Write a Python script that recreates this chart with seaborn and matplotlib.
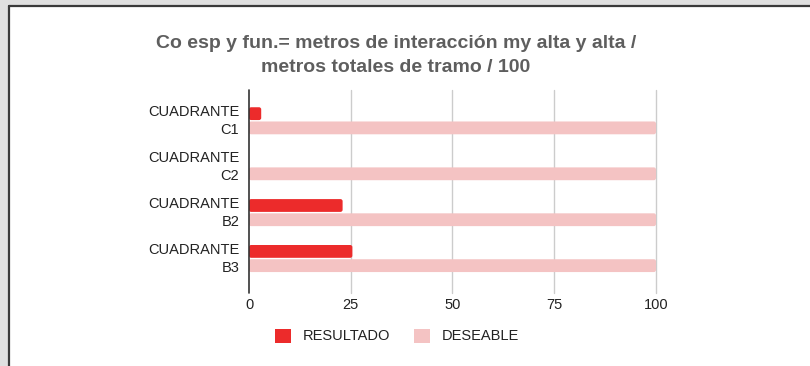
import matplotlib
matplotlib.use("Agg")
import matplotlib.pyplot as plt
from matplotlib.patches import Rectangle, FancyBboxPatch
from matplotlib.lines import Line2D
from matplotlib.transforms import ScaledTranslation
import seaborn as sns
import pandas as pd

# Data
cuadrantes = ["CUADRANTE\nC1", "CUADRANTE\nC2", "CUADRANTE\nB2", "CUADRANTE\nB3"]
resultado = [3, 0, 23, 25.4]
deseable = [100, 100, 100, 100]
series = ["RESULTADO", "DESEABLE"]
colores = ["#ec2b2b", "#f4c3c3"]
xticks = [0, 25, 50, 75, 100]

df = pd.DataFrame({
    "cuadrante": cuadrantes * 2,
    "valor": resultado + deseable,
    "serie": [series[0]] * len(cuadrantes) + [series[1]] * len(cuadrantes),
})

sns.set_theme(style="white")
plt.rcParams["font.family"] = ["Liberation Sans", "DejaVu Sans"]

W, H = 810, 366
fig = plt.figure(figsize=(W / 100, H / 100), dpi=100)
fig.patch.set_facecolor("#e0e0e0")

# white card with a dark edge on the top and left
fig.patches.append(Rectangle((9 / W, 0), 1, 1 - 6 / H, transform=fig.transFigure,
                             facecolor="white", edgecolor="none", zorder=-5))
fig.lines.append(Line2D([8.5 / W, 8.5 / W], [0, 1 - 5.5 / H], transform=fig.transFigure,
                        color="#3a3a3a", lw=1.6, zorder=-4))
fig.lines.append(Line2D([8.5 / W, 1], [1 - 5.5 / H, 1 - 5.5 / H], transform=fig.transFigure,
                        color="#3a3a3a", lw=1.6, zorder=-4))

ax = fig.add_axes([249 / W, 1 - 287 / H, (656 - 249) / W, (287 - 90) / H])
ax.set_facecolor("none")

sns.barplot(data=df, x="valor", y="cuadrante", hue="serie", orient="h",
            palette=colores, hue_order=series, width=0.62, gap=0.1,
            saturation=1, linewidth=0, legend=False, ax=ax, zorder=3)

ax.set_xlim(0, 100)
ax.set_ylim(3.62, -0.67)

# soften the bar ends with slightly rounded corners
px_x = 100 / (656 - 249)
px_y = (3.62 + 0.67) / (287 - 90)
for bar in list(ax.patches):
    x0, y0 = bar.get_x(), bar.get_y()
    w, h = bar.get_width(), bar.get_height()
    if w <= 0:
        bar.remove()
        continue
    rounded = FancyBboxPatch((x0, y0), w, h,
                             boxstyle=f"round,pad=0,rounding_size={2.2 * px_x}",
                             mutation_aspect=px_y / px_x,
                             facecolor=bar.get_facecolor(), edgecolor="none", zorder=3)
    bar.remove()
    ax.add_patch(rounded)

ax.set_xticks(xticks)
ax.set_xticklabels([str(t) for t in xticks], fontsize=10.5, color="#222222")
ax.tick_params(axis="x", length=0, pad=8)
ax.tick_params(axis="y", length=0, pad=7)
lift = ScaledTranslation(0, 3 / 100, fig.dpi_scale_trans)
for lab in ax.get_yticklabels():
    lab.set_fontsize(10.5)
    lab.set_color("#222222")
    lab.set_horizontalalignment("right")
    lab.set_multialignment("right")
    lab.set_linespacing(1.35)
    lab.set_transform(lab.get_transform() + lift)
ax.set_xlabel("")
ax.set_ylabel("")

for s in ax.spines.values():
    s.set_visible(False)

# vertical gridlines that run a little below the plot area
for t in xticks[1:]:
    ax.axvline(t, ymin=-0.03, ymax=1, color="#cccccc", lw=1, zorder=1, clip_on=False)
ax.axvline(0, ymin=-0.03, ymax=1, color="#333333", lw=1.2, zorder=4, clip_on=False)

fig.text(396 / W, 1 - 43 / H, "Co esp y fun.= metros de interacción my alta y alta /",
         ha="center", va="center", fontsize=14, fontweight="bold", color="#5e5e5e")
fig.text(396 / W, 1 - 67 / H, "metros totales de tramo / 100",
         ha="center", va="center", fontsize=14, fontweight="bold", color="#5e5e5e")

handles = [Rectangle((0, 0), 1, 1, facecolor=c, edgecolor="none") for c in colores]
fig.legend(handles, series, loc="center", bbox_to_anchor=(397 / W, 1 - 336 / H),
           ncol=2, frameon=False, fontsize=10.5, handlelength=1.1, handleheight=1.1,
           handletextpad=0.8, columnspacing=1.6, labelcolor="#222222")

fig.savefig("out.png", dpi=100)
